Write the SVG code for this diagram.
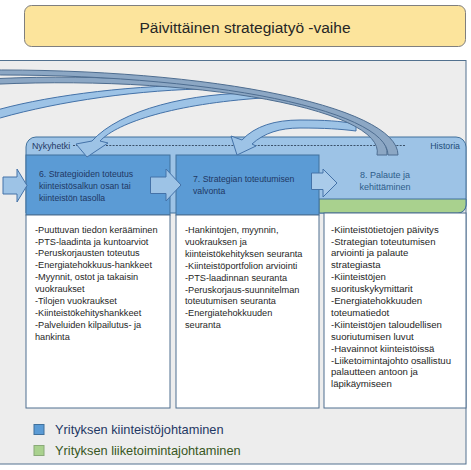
<svg xmlns="http://www.w3.org/2000/svg" width="471" height="470" viewBox="0 0 471 470">
<style>
text{font-family:"Liberation Sans",Arial,sans-serif}
.list{font-size:9.2px;fill:#262626}
.list8{font-size:9.6px;fill:#262626}
.hdr{font-size:8.7px;fill:#1F3864}
.arr{fill:#9DC3E6;stroke:#4472A8;stroke-width:1}
.dark{fill:#8CA7C4;stroke:#4E6D90;stroke-width:1}
.blue{fill:#5B9BD5;stroke:#41719C;stroke-width:1}
.white{fill:#FFFFFF;stroke:#4F6F8F;stroke-width:1}
</style>
<rect id="panel" x="-2" y="60.5" width="468" height="403.5" fill="#EDEDED" stroke="#52718F" stroke-width="1"/>
<g id="title">
<rect x="24.5" y="5.5" width="441" height="41" rx="7" fill="#FCE49C" stroke="#7F7F7F" stroke-width="1"/>
<text x="245" y="33" text-anchor="middle" font-size="15.5" fill="#262626">Päivittäinen strategiatyö -vaihe</text>
</g>
<g id="timeline">
<path d="M26,213 V147 A10,10 0 0 1 36,137 H456 A10,10 0 0 1 466,147 V205 A8,8 0 0 1 458,213 Z" fill="#9DC3E6" stroke="#41719C" stroke-width="1"/>
<path d="M319,199 H466 V205 A8,8 0 0 1 458,213 H319 Z" fill="#A9D18E" stroke="#41719C" stroke-width="1"/>
<line x1="73" y1="145.5" x2="406" y2="145.5" stroke="#22344A" stroke-width="0.8" stroke-dasharray="2,1.3"/>
<text x="32" y="148.5" font-size="8.8" fill="#1F3864">Nykyhetki</text>
<text x="460" y="149" text-anchor="end" font-size="8.8" fill="#1F4E79">Historia</text>
</g>
<g id="node6">
<rect class="blue" x="26" y="155" width="144" height="60"/>
<text class="hdr" x="39" y="176.5"><tspan x="39">6. Strategioiden toteutus</tspan><tspan x="39" dy="12">kiinteistösalkun osan tai</tspan><tspan x="39" dy="12">kiinteistön tasolla</tspan></text>
<rect class="white" x="26" y="215" width="144" height="193"/>
<text class="list" x="35" y="232.6"><tspan x="35">-Puuttuvan tiedon kerääminen</tspan><tspan x="35" dy="11.9">-PTS-laadinta ja kuntoarviot</tspan><tspan x="35" dy="11.9">-Peruskorjausten toteutus</tspan><tspan x="35" dy="11.9">-Energiatehokkuus-hankkeet</tspan><tspan x="35" dy="11.9">-Myynnit, ostot ja takaisin</tspan><tspan x="35" dy="11.9">vuokraukset</tspan><tspan x="35" dy="11.9">-Tilojen vuokraukset</tspan><tspan x="35" dy="11.9">-Kiinteistökehityshankkeet</tspan><tspan x="35" dy="11.9">-Palveluiden kilpailutus- ja</tspan><tspan x="35" dy="11.9">hankinta</tspan></text>
</g>
<g id="node7">
<rect class="blue" x="176" y="155" width="143" height="60"/>
<text class="hdr" x="193" y="182"><tspan x="193">7. Strategian toteutumisen</tspan><tspan x="193" dy="12">valvonta</tspan></text>
<rect class="white" x="176" y="215" width="143" height="193"/>
<text class="list" x="185" y="233"><tspan x="185">-Hankintojen, myynnin,</tspan><tspan x="185" dy="11.9">vuokrauksen ja</tspan><tspan x="185" dy="11.9">kiinteistökehityksen seuranta</tspan><tspan x="185" dy="11.9">-Kiinteistöportfolion arviointi</tspan><tspan x="185" dy="11.9">-PTS-laadinnan seuranta</tspan><tspan x="185" dy="11.9">-Peruskorjaus-suunnitelman</tspan><tspan x="185" dy="11.9">toteutumisen seuranta</tspan><tspan x="185" dy="11.9">-Energiatehokkuuden</tspan><tspan x="185" dy="11.9">seuranta</tspan></text>
</g>
<g id="node8">
<text x="385" y="178" text-anchor="middle" font-size="9" fill="#2E5C8A"><tspan x="385">8. Palaute ja</tspan><tspan x="385" dy="12">kehittäminen</tspan></text>
<rect class="white" x="324" y="213" width="142" height="195"/>
<text class="list8" x="331" y="232.6"><tspan x="331">-Kiinteistötietojen päivitys</tspan><tspan x="331" dy="11.9">-Strategian toteutumisen</tspan><tspan x="331" dy="11.9">arviointi ja palaute</tspan><tspan x="331" dy="11.9">strategiasta</tspan><tspan x="331" dy="11.9">-Kiinteistöjen</tspan><tspan x="331" dy="11.9">suorituskykymittarit</tspan><tspan x="331" dy="11.9">-Energiatehokkuuden</tspan><tspan x="331" dy="11.9">toteumatiedot</tspan><tspan x="331" dy="11.9">-Kiinteistöjen taloudellisen</tspan><tspan x="331" dy="11.9">suoriutumisen luvut</tspan><tspan x="331" dy="11.9">-Havainnot kiinteistöissä</tspan><tspan x="331" dy="11.9">-Liiketoimintajohto osallistuu</tspan><tspan x="331" dy="11.9">palautteen antoon ja</tspan><tspan x="331" dy="11.9">läpikäymiseen</tspan></text>
</g>
<g id="legend">
<rect x="34" y="424.5" width="10" height="10" fill="#5B9BD5" stroke="#41719C" stroke-width="1"/>
<text x="55" y="434" font-size="12.8" fill="#1F3864">Yrityksen kiinteistöjohtaminen</text>
<rect x="34" y="445.5" width="10" height="10" fill="#A9D18E" stroke="#8AAA78" stroke-width="1"/>
<text x="55" y="455" font-size="12.8" fill="#385723">Yrityksen liiketoimintajohtaminen</text>
</g>
<g id="connectors">
<path class="arr" d="M3,177 H17 V169 L27,185.5 L17,202 V194 H3 Z"/>
<path class="arr" d="M150.5,177 H166 V169 L181,185 L166,201 V193.5 H150.5 Z"/>
<path class="arr" style="fill:#AACBEA" d="M311.5,173 H323 V169 L337,183 L323,197 V189.5 H311.5 Z"/>
<path class="arr" d="M-10,112 C40,97 120,86 200,85 C215,85 230,87 245,90 L245,93 C230,91 215,89 200,89 C125,91 45,104 -10,121 Z"/>
<path class="arr" d="M262,93 C190,92 120,110 92,141 L76,144 L87,157 L108,143 L100,141 C118,122 175,104 262,98 Z"/>
<path class="arr" d="M356,124 C340,121 325,120 300,120 C275,120 255,126 242,140 L231,136 L237,155 L256,146 L252,144 C264,133 280,128 300,128 C325,128 340,129 356,131 Z"/>
<path class="dark" d="M387,155 A327,76 0 0 0 -40,80.8 L-40,86.3 A317,69 0 0 1 377,155 Z"/>
<path class="dark" d="M398,155 A398,85 0 0 0 -40,70.4 L-40,75.4 A388,80 0 0 1 388,155 Z"/>
</g>
</svg>
